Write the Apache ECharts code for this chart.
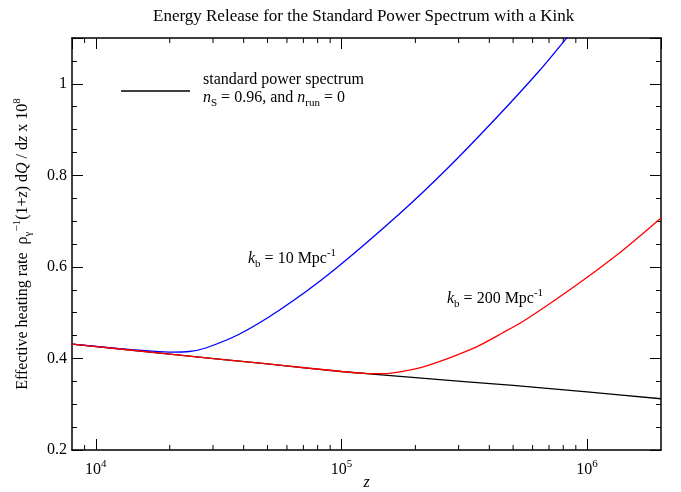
<!DOCTYPE html>
<html>
<head>
<meta charset="utf-8">
<script src="https://cdn.jsdelivr.net/npm/echarts@6/dist/echarts.min.js"></script>
<style>
html, body { margin: 0; padding: 0; background: #fff; }
#chart { width: 681px; height: 492px; }
</style>
</head>
<body>
<div id="chart"></div>
<script>
// standard power spectrum (black)
var zStd = [8000, 2e4, 5e4, 1e5, 2e5, 5e5, 1e6, 2e6];
var qStd = [0.4315, 0.4095, 0.388, 0.3715, 0.358, 0.341, 0.327, 0.312];
// kink at k_b = 10 Mpc^-1 (blue)
var zK10 = [8000, 12500, 16500, 20500, 24000, 28000, 38500, 56000, 89000, 172000, 275000, 438000, 638000, 814000, 927000];
var qK10 = [0.4315, 0.4215, 0.4165, 0.414, 0.4152, 0.4228, 0.4534, 0.5058, 0.5844, 0.7155, 0.8193, 0.9318, 1.0279, 1.096, 1.135];
// kink at k_b = 200 Mpc^-1 (red)
var zK200 = [8000, 2e4, 5e4, 1e5, 1.25e5, 1.5e5, 1.75e5, 2.1e5, 2.5e5, 3.0e5, 3.6e5, 4.5e5, 5.6e5, 8.5e5, 1.35e6, 2e6];
var qK200 = [0.4315, 0.4095, 0.388, 0.3715, 0.3675, 0.3668, 0.3712, 0.380, 0.393, 0.409, 0.427, 0.455, 0.484, 0.550, 0.630, 0.707];
// log minor ticks on z axis
var zMinor = [9000, 2e4, 3e4, 4e4, 5e4, 6e4, 7e4, 8e4, 9e4, 2e5, 3e5, 4e5, 5e5, 6e5, 7e5, 8e5, 9e5];
var yMin = 0.2, yMax = 1.1;

var serif = 'Liberation Serif, Times New Roman, serif';

function pairs(xs, ys) {
  return xs.map(function (x, i) { return [x, ys[i]]; });
}

var chart = echarts.init(document.getElementById('chart'));

var supRich = {
  n: { fontFamily: serif, fontSize: 16, color: '#000', lineHeight: 22 },
  i: { fontFamily: serif, fontSize: 16, fontStyle: 'italic', color: '#000', lineHeight: 22 },
  sup: { fontFamily: serif, fontSize: 11, color: '#000', lineHeight: 11, verticalAlign: 'top' },
  sub: { fontFamily: serif, fontSize: 11, color: '#000', lineHeight: 11, verticalAlign: 'bottom' }
};

function xLabel(v) {
  var e = Math.log10(v);
  if (Math.abs(e - Math.round(e)) > 1e-6) return '';
  return '{n|10}{sup|' + Math.round(e) + '}';
}

var option = {
  animation: false,
  title: {
    text: 'Energy Release for the Standard Power Spectrum with a Kink',
    left: 148, top: 3,
    textStyle: { fontFamily: serif, fontSize: 17, fontWeight: 'normal', color: '#000' }
  },
  grid: { left: 72, right: 20, top: 38, bottom: 42, outerBoundsMode: 'none' },
  xAxis: [{
    type: 'log', logBase: 10, min: 8000, max: 2e6, position: 'bottom',
    axisLine: { lineStyle: { color: '#000', width: 1.5 } },
    axisTick: { inside: true, length: 11, lineStyle: { color: '#000' } },
    splitLine: { show: false },
    axisLabel: { formatter: xLabel, rich: supRich, margin: 9, showMinLabel: false, showMaxLabel: false },
    name: 'z', nameLocation: 'middle', nameGap: 25, nameMoveOverlap: false,
    nameTextStyle: { fontFamily: serif, fontSize: 16, fontStyle: 'italic', color: '#000' }
  }, {
    type: 'log', logBase: 10, min: 8000, max: 2e6, position: 'top',
    axisLine: { lineStyle: { color: '#000', width: 1.5 } },
    axisTick: { inside: true, length: 11, lineStyle: { color: '#000' } },
    splitLine: { show: false },
    axisLabel: { show: false }
  }],
  yAxis: [{
    type: 'value', min: yMin, max: yMax, interval: 0.2, position: 'left',
    axisLine: { lineStyle: { color: '#000', width: 1.5 } },
    axisTick: { inside: true, length: 11, lineStyle: { color: '#000' } },
    minorTick: { show: true, splitNumber: 4, length: 5, lineStyle: { color: '#000' } },
    splitLine: { show: false },
    axisLabel: { fontFamily: serif, fontSize: 16, color: '#000', margin: 5, showMaxLabel: false },
    name: '{n|Effective heating rate  ρ}{sub|γ}{sup|−1}{n|(1+}{i|z}{n|) d}{i|Q}{n| / d}{i|z}{n| x 10}{sup|8}',
    nameLocation: 'middle', nameGap: 38, nameRotate: 90, nameMoveOverlap: false,
    nameTextStyle: { rich: supRich }
  }, {
    type: 'value', min: yMin, max: yMax, interval: 0.2, position: 'right',
    axisLine: { lineStyle: { color: '#000', width: 1.5 } },
    axisTick: { inside: true, length: 11, lineStyle: { color: '#000' } },
    minorTick: { show: true, splitNumber: 4, length: 5, lineStyle: { color: '#000' } },
    splitLine: { show: false },
    axisLabel: { show: false }
  }],
  graphic: [
    { type: 'line', shape: { x1: 121, y1: 91, x2: 190, y2: 91 }, style: { stroke: '#000', lineWidth: 1.3 } },
    { type: 'text', left: 203, top: 72, style: { text: 'standard power spectrum', font: '16px ' + serif, fill: '#000' } },
    { type: 'text', left: 203, top: 90, style: {
      text: '{i|n}{sub|S}{n| = 0.96, and }{i|n}{sub|run}{n| = 0}', rich: supRich } },
    { type: 'text', left: 248, top: 248, style: {
      text: '{i|k}{sub|b}{n| = 10 Mpc}{sup|-1}', rich: supRich } },
    { type: 'text', left: 447, top: 288, style: {
      text: '{i|k}{sub|b}{n| = 200 Mpc}{sup|-1}', rich: supRich } }
  ],
  series: [{
    type: 'line', data: pairs(zStd, qStd), showSymbol: false, smooth: 0.3,
    lineStyle: { color: '#000', width: 1.3 }
  }, {
    type: 'line', data: pairs(zK10, qK10), showSymbol: false, smooth: 0.3,
    lineStyle: { color: '#0000ff', width: 1.3 }
  }, {
    type: 'line', data: pairs(zK200, qK200), showSymbol: false, smooth: 0.3,
    lineStyle: { color: '#ff0000', width: 1.3 }
  }, {
    type: 'custom', silent: true, clip: false,
    data: zMinor.map(function (z) { return [z, yMin]; }),
    encode: { x: 0, y: 1 },
    renderItem: function (params, api) {
      var b = api.coord([api.value(0), yMin]);
      var t = api.coord([api.value(0), yMax]);
      return { type: 'group', children: [
        { type: 'line', shape: { x1: b[0], y1: b[1], x2: b[0], y2: b[1] - 5 }, style: { stroke: '#000', lineWidth: 1 } },
        { type: 'line', shape: { x1: t[0], y1: t[1], x2: t[0], y2: t[1] + 5 }, style: { stroke: '#000', lineWidth: 1 } }
      ] };
    }
  }]
};

chart.setOption(option);
</script>
</body>
</html>
